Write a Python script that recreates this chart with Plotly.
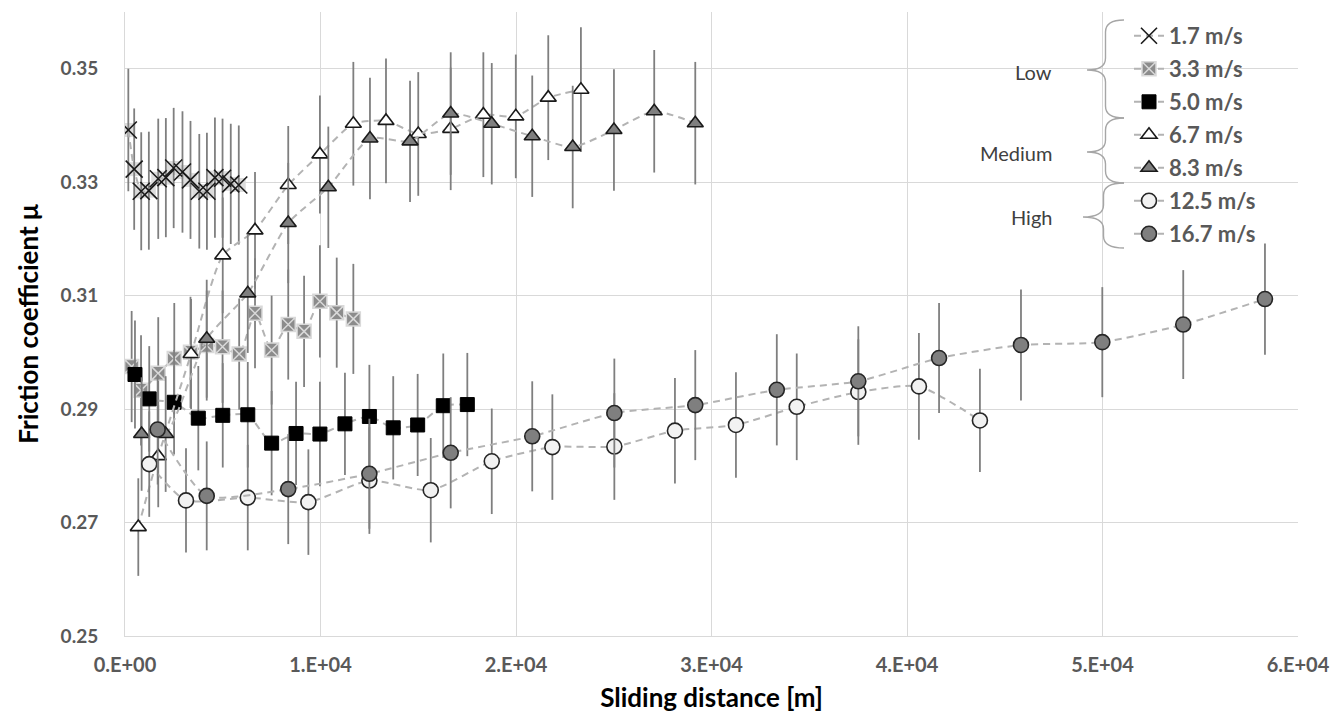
import plotly.graph_objects as go

# ---------------- data ----------------
dist_17 = [170, 470, 830, 1220, 1700, 2090, 2490, 2940, 3350, 3800, 4190, 4600, 4990, 5410, 5820]
mu_17 = [0.3392, 0.3323, 0.3284, 0.3285, 0.3306, 0.3308, 0.3325, 0.3318, 0.3304, 0.3284, 0.3284, 0.3308, 0.3307, 0.3297, 0.3295]
err_17 = [0.0108, 0.0107, 0.0104, 0.0104, 0.0106, 0.0105, 0.0106, 0.0107, 0.0104, 0.0101, 0.0103, 0.0106, 0.0105, 0.0106, 0.0105]

dist_33 = [340, 820, 1700, 2520, 3350, 4180, 4990, 5840, 6650, 7500, 8350, 9160, 9970, 10830, 11680]
mu_33 = [0.2975, 0.2933, 0.2963, 0.2989, 0.3000, 0.3012, 0.3010, 0.2997, 0.3069, 0.3004, 0.3049, 0.3037, 0.3090, 0.3070, 0.3059]
err_33 = [0.0098, 0.0097, 0.0099, 0.0098, 0.0098, 0.0097, 0.0099, 0.0098, 0.0097, 0.0096, 0.0097, 0.0098, 0.0099, 0.0097, 0.0097]

dist_50 = [510, 1240, 2510, 3750, 5000, 6280, 7500, 8750, 9970, 11250, 12500, 13720, 14970, 16280, 17510]
mu_50 = [0.2961, 0.2918, 0.2912, 0.2884, 0.2889, 0.2890, 0.2840, 0.2857, 0.2856, 0.2874, 0.2887, 0.2867, 0.2872, 0.2906, 0.2908]
err_50 = [0.0095, 0.0093, 0.0092, 0.0092, 0.0092, 0.0093, 0.0092, 0.0091, 0.0092, 0.0090, 0.0091, 0.0091, 0.0090, 0.0092, 0.0091]

dist_67 = [680, 1700, 3380, 5000, 6650, 8350, 9970, 11680, 13350, 15000, 16660, 18330, 19990, 21650, 23320]
mu_67 = [0.2692, 0.2817, 0.2997, 0.3171, 0.3215, 0.3295, 0.3349, 0.3403, 0.3408, 0.3385, 0.3394, 0.3419, 0.3416, 0.3449, 0.3463]
err_67 = [0.0086, 0.0090, 0.0097, 0.0102, 0.0103, 0.0104, 0.0104, 0.0109, 0.0110, 0.0109, 0.0108, 0.0110, 0.0109, 0.0110, 0.0110]

dist_83 = [850, 2080, 4180, 6280, 8350, 10400, 12530, 14580, 16660, 18760, 20830, 22900, 25010, 27070, 29170]
mu_83 = [0.2856, 0.2856, 0.3024, 0.3104, 0.3228, 0.3291, 0.3377, 0.3372, 0.3421, 0.3403, 0.3381, 0.3362, 0.3392, 0.3425, 0.3404]
err_83 = [0.0100, 0.0102, 0.0104, 0.0105, 0.0106, 0.0107, 0.0107, 0.0107, 0.0108, 0.0107, 0.0107, 0.0108, 0.0107, 0.0108, 0.0108]

dist_125 = [1240, 3120, 6280, 9380, 12500, 15640, 18760, 21860, 25030, 28130, 31250, 34360, 37510, 40610, 43730]
mu_125 = [0.2803, 0.2739, 0.2744, 0.2736, 0.2774, 0.2757, 0.2808, 0.2833, 0.2834, 0.2862, 0.2872, 0.2904, 0.2930, 0.2940, 0.2880]
err_125 = [0.0093, 0.0092, 0.0093, 0.0093, 0.0094, 0.0092, 0.0093, 0.0093, 0.0094, 0.0093, 0.0093, 0.0094, 0.0093, 0.0094, 0.0091]

dist_167 = [1670, 4180, 8350, 12500, 16660, 20830, 25030, 29170, 33340, 37510, 41640, 45830, 49990, 54130, 58310]
mu_167 = [0.2864, 0.2747, 0.2759, 0.2786, 0.2823, 0.2852, 0.2893, 0.2907, 0.2934, 0.2949, 0.2990, 0.3013, 0.3018, 0.3049, 0.3094]
err_167 = [0.0097, 0.0096, 0.0097, 0.0097, 0.0098, 0.0097, 0.0096, 0.0097, 0.0098, 0.0097, 0.0097, 0.0098, 0.0097, 0.0096, 0.0098]

x_tickvals = [0, 10000, 20000, 30000, 40000, 50000, 60000]
x_ticktext = ["0.E+00", "1.E+04", "2.E+04", "3.E+04", "4.E+04", "5.E+04", "6.E+04"]

group_labels = ["Low", "Medium", "High"]

# ---------------- figure ----------------
W, H = 1344, 713
ML, MR, MT, MB = 125, 46, 12, 77
PW, PH = W - ML - MR, H - MT - MB

def px2paper_x(px):
    return (px - ML) / PW

def px2paper_y(py):
    return (H - MB - py) / PH

LINE_COL = "#b3b3b3"
ERR_COL = "#7f7f7f"
DASH = "7px,5px"
FONT = "Lato"

fig = go.Figure()

def add_series(name, xs, ys, es, symbol, size, fill, edge, edge_w, group):
    fig.add_trace(go.Scatter(
        x=xs, y=ys, name=name, mode="lines+markers",
        legendgroup=group,
        line=dict(color=LINE_COL, width=2, dash=DASH, shape="spline", smoothing=0.6),
        marker=dict(symbol=symbol, size=size, color=fill, line=dict(color=edge, width=edge_w)),
        error_y=dict(type="data", array=es, visible=True, color=ERR_COL, thickness=1.8, width=0),
    ))

# light background boxes behind the 1.7 m/s crosses
fig.add_trace(go.Scatter(
    x=dist_17, y=mu_17, mode="markers", showlegend=False, hoverinfo="skip",
    marker=dict(symbol="square", size=14, color="#dcdcdc", line=dict(width=0)),
))

add_series("1.7 m/s", dist_17, mu_17, err_17, "x-thin", 17, "#000000", "#1a1a1a", 1.6, "g1")
add_series("3.3 m/s", dist_33, mu_33, err_33, "square-x", 14, "#8c8c8c", "#d9d9d9", 1.5, "g2")
add_series("5.0 m/s", dist_50, mu_50, err_50, "square", 14, "#000000", "#000000", 1, "g3")
add_series("6.7 m/s", dist_67, mu_67, err_67, "triangle-up", 14, "#ffffff", "#1a1a1a", 1.6, "g4")
add_series("8.3 m/s", dist_83, mu_83, err_83, "triangle-up", 14, "#7f7f7f", "#1a1a1a", 1.6, "g5")
add_series("12.5 m/s", dist_125, mu_125, err_125, "circle", 15, "#f2f2f2", "#262626", 1.6, "g6")
add_series("16.7 m/s", dist_167, mu_167, err_167, "circle", 15, "#7f7f7f", "#262626", 1.6, "g7")

# ---------------- braces and group labels ----------------
def brace_path(y0, y1, ym, xt, xr):
    xm = (xt + xr) / 2.0
    a = 12
    pts = [
        ("M", [(xr, y0)]),
        ("Q", [(xm, y0), (xm, y0 + a)]),
        ("L", [(xm, ym - a)]),
        ("Q", [(xm, ym), (xt, ym)]),
        ("Q", [(xm, ym), (xm, ym + a)]),
        ("L", [(xm, y1 - a)]),
        ("Q", [(xm, y1), (xr, y1)]),
    ]
    s = ""
    for cmd, coords in pts:
        s += cmd + " " + " ".join(f"{px2paper_x(x):.5f},{px2paper_y(y):.5f}" for x, y in coords) + " "
    return s.strip()

braces = [(20, 118, 70, 1087, 1124), (118, 183, 152, 1087, 1124), (183, 248, 217, 1083, 1124)]
label_y = [72, 153, 217]
for (y0, y1, ym, xt, xr), lab, ly in zip(braces, group_labels, label_y):
    fig.add_shape(type="path", xref="paper", yref="paper", path=brace_path(y0, y1, ym, xt, xr),
                  line=dict(color="#a6a6a6", width=1.4))
    fig.add_annotation(x=px2paper_x(1054), y=px2paper_y(ly), xref="paper", yref="paper",
                       text=lab, showarrow=False, xanchor="right", yanchor="middle",
                       font=dict(family=FONT, size=20, color="#404040"))

fig.update_layout(
    width=W, height=H,
    margin=dict(l=ML, r=MR, t=MT, b=MB, autoexpand=False),
    paper_bgcolor="white", plot_bgcolor="white",
    showlegend=True,
    legend=dict(x=px2paper_x(1129), y=px2paper_y(15), xanchor="left", yanchor="top",
                bgcolor="rgba(0,0,0,0)", borderwidth=0, tracegroupgap=1.4,
                font=dict(family=FONT, size=22, color="#595959", weight="bold"),
                itemwidth=30),
    xaxis=dict(range=[0, 60000], tickvals=x_tickvals, ticktext=x_ticktext,
               automargin=False,
               showgrid=True, gridcolor="#d9d9d9", gridwidth=1, zeroline=False,
               showline=True, linecolor="#d9d9d9", linewidth=1, ticks="",
               tickfont=dict(family=FONT, size=20, color="#595959", weight="bold"),
               ticklabelstandoff=11,
               title=dict(text="Sliding distance [m]", standoff=13,
                          font=dict(family=FONT, size=26, color="#000000", weight="bold"))),
    yaxis=dict(range=[0.25, 0.36], tick0=0.25, dtick=0.02, tickformat=".2f",
               automargin=False,
               showgrid=True, gridcolor="#d9d9d9", gridwidth=1, zeroline=False,
               showline=True, linecolor="#d9d9d9", linewidth=1, ticks="",
               tickfont=dict(family=FONT, size=19, color="#595959", weight="bold"),
               ticklabelstandoff=22,
               title=dict(text="Friction coefficient μ", standoff=14,
                          font=dict(family=FONT, size=26, color="#000000", weight="bold"))),
)

fig.write_html("out.html", config={"displayModeBar": False},
               post_script="document.body.style.margin='0';")
